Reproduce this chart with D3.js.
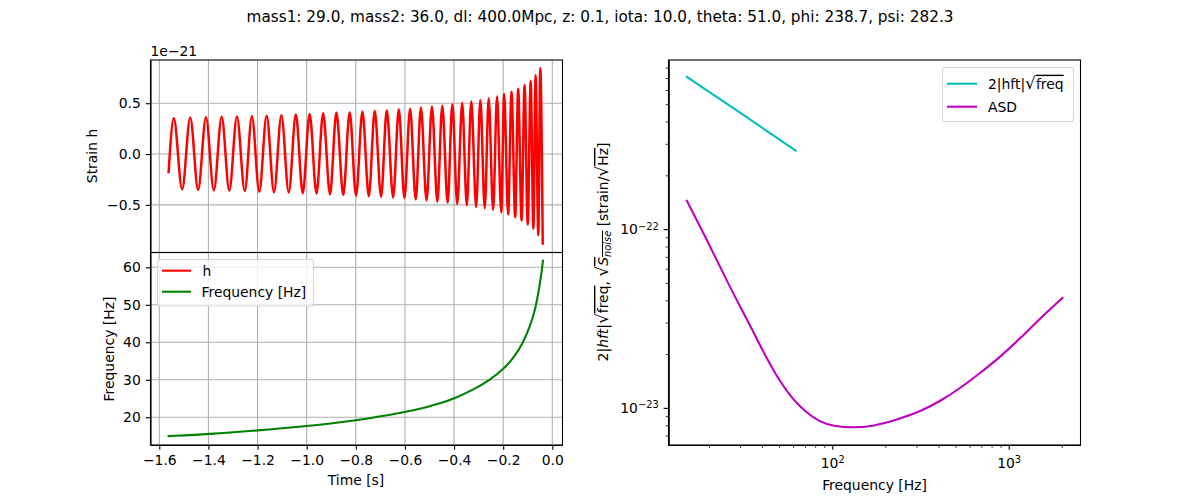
<!DOCTYPE html>
<html>
<head>
<meta charset="utf-8">
<script src="https://cdn.jsdelivr.net/npm/d3@7"></script>
<style>
  body { margin: 0; background: white; }
  text { font-family: "DejaVu Sans", sans-serif; font-size: 13.9px; fill: black; }
  .axis path, .axis line { stroke: black; stroke-width: 1.1px; }
  .axis.minor line { stroke-width: 0.83px; }
  .grid line { stroke: #b0b0b0; stroke-width: 1.1px; }
  .over { text-decoration: overline; }
</style>
</head>
<body>
<div id="chart"></div>
<script>
// Values
const titleText = "mass1: 29.0, mass2: 36.0, dl: 400.0Mpc, z: 0.1, iota: 10.0, theta: 51.0, phi: 238.7, psi: 282.3";

// Strain: start, each crest and trough, end
const strainTime = [-1.562, -1.541, -1.507, -1.474, -1.442, -1.410, -1.378, -1.346, -1.315, -1.284, -1.252, -1.223,
  -1.193, -1.163, -1.133, -1.103, -1.073, -1.044, -1.016, -0.988, -0.960, -0.933, -0.905, -0.879,
  -0.851, -0.825, -0.799, -0.773, -0.747, -0.723, -0.697, -0.674, -0.648, -0.625, -0.602, -0.579,
  -0.556, -0.535, -0.512, -0.490, -0.468, -0.448, -0.426, -0.407, -0.387, -0.367, -0.348, -0.330,
  -0.310, -0.293, -0.275, -0.259, -0.241, -0.225, -0.208, -0.196, -0.180, -0.166, -0.151, -0.139,
  -0.125, -0.113, -0.100, -0.088, -0.077, -0.068, -0.057, -0.049, -0.039];
const strainValue = [-0.176, 0.353, -0.347, 0.359, -0.353, 0.363, -0.357, 0.366, -0.360, 0.369, -0.363, 0.373,
  -0.370, 0.378, -0.376, 0.382, -0.379, 0.388, -0.386, 0.395, -0.389, 0.402, -0.396, 0.408,
  -0.402, 0.412, -0.409, 0.418, -0.416, 0.425, -0.422, 0.431, -0.428, 0.441, -0.433, 0.445,
  -0.446, 0.457, -0.456, 0.467, -0.467, 0.476, -0.477, 0.490, -0.490, 0.503, -0.504, 0.516,
  -0.520, 0.532, -0.533, 0.549, -0.549, 0.565, -0.573, 0.591, -0.595, 0.614, -0.622, 0.643,
  -0.654, 0.679, -0.693, 0.719, -0.735, 0.775, -0.798, 0.843, -0.879];

// Frequency over time
const freqTime = [-1.562, -1.4, -1.2, -1.0, -0.8, -0.6, -0.5, -0.457, -0.4, -0.322, -0.254, -0.2, -0.152, -0.118, -0.091, -0.070, -0.057, -0.046, -0.038];
const freqValue = [15.0, 15.5, 16.5, 17.6, 19.1, 21.3, 22.9, 23.7, 25.0, 27.3, 30.0, 32.7, 36.3, 40.0, 44.2, 48.6, 53.1, 57.5, 61.8];

// Right panel
const hftFreq = [15, 30, 62];
const hftValue = [7.1e-22, 4.48e-22, 2.75e-22];
const asdFreq = [15, 20, 25.9, 29.9, 35.6, 42.4, 50.4, 60, 71.6, 85.1, 101, 131.6, 171, 232, 315, 409, 532, 691, 897, 1167, 1515, 2018];
const asdValue = [1.44e-22, 8.28e-23, 4.89e-23, 3.73e-23, 2.68e-23, 1.90e-23, 1.41e-23, 1.11e-23, 9.37e-24, 8.35e-24, 7.9e-24, 7.73e-24,
  7.9e-24, 8.57e-24, 9.53e-24, 1.09e-23, 1.29e-23, 1.57e-23, 1.93e-23, 2.46e-23, 3.18e-23, 4.12e-23];

// Ticks
const timeTicks = [-1.6, -1.4, -1.2, -1.0, -0.8, -0.6, -0.4, -0.2, 0.0];
const strainTicks = [-0.5, 0.0, 0.5];
const freqTicks = [20, 30, 40, 50, 60];
const logFreqTicks = [100, 1000];
const logAmpTicks = [1e-23, 1e-22];
const mantissas = [2, 3, 4, 5, 6, 7, 8, 9];

// Layout of the figure
const width = 1200, height = 500;
const left = {x0: 150.5, x1: 562.5, top: 60, mid: 252.5, bottom: 445};
const right = {x0: 668.5, x1: 1080.5, top: 60, bottom: 445};
const lw = 2.08, tickLen = 4.86, tickPad = 4.86;

const svg = d3.select("#chart").append("svg")
  .attr("width", width)
  .attr("height", height);

// Scales
const xTime = d3.scaleLinear().domain([-1.6358, 0.0415]).range([left.x0, left.x1]);
const yStrain = d3.scaleLinear().domain([-0.968, 0.925]).range([left.mid, left.top]);
const yFreq = d3.scaleLinear().domain([12.61, 63.95]).range([left.bottom, left.mid]);
const xLog = d3.scaleLog().domain([11.8, 2553]).range([right.x0, right.x1]);
const yLog = d3.scaleLog().domain([6.2e-24, 8.83e-22]).range([right.bottom, right.top]);

const minus = v => d3.format(".1f")(v).replace("-", "\u2212");

// Grid lines of a panel
function drawGrid(xs, ys, x, y, top, bottom, x0, x1) {
  const g = svg.append("g").attr("class", "grid");
  g.selectAll(".v").data(xs).enter().append("line")
    .attr("x1", d => x(d)).attr("x2", d => x(d))
    .attr("y1", top).attr("y2", bottom);
  g.selectAll(".h").data(ys).enter().append("line")
    .attr("x1", x0).attr("x2", x1)
    .attr("y1", d => y(d)).attr("y2", d => y(d));
}

function drawLine(xs, ys, x, y, color, curve, sw) {
  const line = d3.line()
    .x(d => x(d[0]))
    .y(d => y(d[1]))
    .curve(curve);
  svg.append("path")
    .attr("d", line(d3.zip(xs, ys)))
    .attr("fill", "none")
    .attr("stroke", color)
    .attr("stroke-width", sw)
    .attr("stroke-linecap", "square")
    .attr("stroke-linejoin", "round");
}

// Box around a panel
function drawFrame(x0, x1, y0, y1) {
  svg.append("rect")
    .attr("x", x0).attr("y", y0)
    .attr("width", x1 - x0).attr("height", y1 - y0)
    .attr("fill", "none")
    .attr("stroke", "black")
    .attr("stroke-width", 1.1);
}

function drawAxis(axis, tx, ty) {
  axis.tickSizeOuter(0);
  return svg.append("g")
    .attr("class", "axis")
    .attr("transform", `translate(${tx},${ty})`)
    .call(axis)
    .call(g => g.selectAll("text").attr("font-family", null).attr("font-size", null))
    .call(g => g.attr("font-family", null).attr("font-size", null));
}

// Top left: strain
drawGrid(timeTicks, strainTicks, xTime, yStrain, left.top, left.mid, left.x0, left.x1);
drawLine(strainTime, strainValue, xTime, yStrain, "red", d3.curveMonotoneX, 2.5);
drawAxis(d3.axisLeft(yStrain).tickValues(strainTicks).tickFormat(minus).tickSize(tickLen).tickPadding(tickPad), left.x0, 0);
drawFrame(left.x0, left.x1, left.top, left.mid);

// Bottom left: frequency
drawGrid(timeTicks, freqTicks, xTime, yFreq, left.mid, left.bottom, left.x0, left.x1);
drawLine(freqTime, freqValue, xTime, yFreq, "green", d3.curveBasis, lw);
drawAxis(d3.axisLeft(yFreq).tickValues(freqTicks).tickSize(tickLen).tickPadding(tickPad), left.x0, 0);
drawAxis(d3.axisBottom(xTime).tickValues(timeTicks).tickFormat(minus).tickSize(tickLen).tickPadding(tickPad), 0, left.bottom);
drawFrame(left.x0, left.x1, left.mid, left.bottom);

// Right: amplitude spectrum
drawLine(hftFreq, hftValue, xLog, yLog, "#00bfbf", d3.curveLinear, lw);
drawLine(asdFreq, asdValue, xLog, yLog, "#bf00bf", d3.curveBasis, lw);

// Log axes, labels set by hand as 10 with a raised exponent
function powerLabel(sel, exp) {
  sel.text("10");
  sel.append("tspan").attr("dy", "-0.45em").style("font-size", "9.9px").text(exp);
}
const xMinor = [10, 100, 1000].flatMap(k => mantissas.map(m => m * k)).filter(v => v > 11.8 && v < 2553);
const yMinor = [1e-24, 1e-23, 1e-22].flatMap(k => mantissas.map(m => m * k)).filter(v => v > 6.2e-24 && v < 8.83e-22);

drawAxis(d3.axisBottom(xLog).tickValues(xMinor).tickFormat("").tickSize(2.78), 0, right.bottom).classed("minor", true);
drawAxis(d3.axisBottom(xLog).tickValues(logFreqTicks).tickFormat("").tickSize(tickLen).tickPadding(tickPad), 0, right.bottom)
  .selectAll("text")
  .attr("y", 13)
  .each(function(d) { powerLabel(d3.select(this), String(Math.round(Math.log10(d)))); });
drawAxis(d3.axisLeft(yLog).tickValues(yMinor).tickFormat("").tickSize(2.78), right.x0, 0).classed("minor", true);
drawAxis(d3.axisLeft(yLog).tickValues(logAmpTicks).tickFormat("").tickSize(tickLen).tickPadding(tickPad), right.x0, 0)
  .selectAll("text")
  .each(function(d) { powerLabel(d3.select(this), "\u2212" + Math.round(-Math.log10(d))); });
drawFrame(right.x0, right.x1, right.top, right.bottom);

// Legend box with line samples
function drawLegend(x, y, w, h, entries, x0, x1, textX) {
  svg.append("rect")
    .attr("x", x).attr("y", y)
    .attr("width", w).attr("height", h)
    .attr("rx", 2.8)
    .attr("fill", "white").attr("fill-opacity", 0.8)
    .attr("stroke", "#cccccc").attr("stroke-opacity", 0.8).attr("stroke-width", 1.1);
  entries.forEach(e => {
    svg.append("line")
      .attr("x1", x0).attr("x2", x1)
      .attr("y1", e.y).attr("y2", e.y)
      .attr("stroke", e.color).attr("stroke-width", lw);
    const t = svg.append("text").attr("x", textX).attr("y", e.y + 5);
    e.label(t);
  });
}

// Root sign, a little larger than the text around it
function rootSign(t) {
  t.append("tspan").style("font-size", "17px").text("\u221A");
}

drawLegend(157.5, 259.5, 156, 46.5, [
  {y: 270.7, color: "red", label: t => t.attr("x", 202.5).text("h")},
  {y: 291.7, color: "green", label: t => t.text("Frequency [Hz]")}
], 162, 191, 201.5);

drawLegend(942.5, 67.5, 131, 54, [
  {y: 83.7, color: "#00bfbf", label: t => {
    t.append("tspan").text("2|hft|");
    rootSign(t);
    t.append("tspan").attr("class", "over").text("freq");
  }},
  {y: 106.7, color: "#bf00bf", label: t => t.text("ASD")}
], 947, 977, 988);

// Titles and axis labels
svg.append("text").attr("x", 600).attr("y", 22).attr("text-anchor", "middle").style("font-size", "15.28px").text(titleText);
svg.append("text").attr("x", 150.5).attr("y", 56).text("1e\u221221");
svg.append("text").attr("x", 356).attr("y", 485).attr("text-anchor", "middle").text("Time [s]");
svg.append("text").attr("x", 874.5).attr("y", 490).attr("text-anchor", "middle").text("Frequency [Hz]");
svg.append("text").attr("transform", "translate(97,156) rotate(-90)").attr("text-anchor", "middle").text("Strain h");
svg.append("text").attr("transform", "translate(114,349) rotate(-90)").attr("text-anchor", "middle").text("Frequency [Hz]");

// Long label of the right panel, with root bars
const yLabel = svg.append("text").attr("transform", "translate(608,252) rotate(-90)").attr("text-anchor", "middle");
yLabel.append("tspan").text("2|");
yLabel.append("tspan").style("font-style", "italic").text("hft");
yLabel.append("tspan").text("|");
rootSign(yLabel);
yLabel.append("tspan").attr("class", "over").text("freq");
yLabel.append("tspan").text(", ");
rootSign(yLabel);
yLabel.append("tspan").attr("class", "over").style("font-style", "italic").text("S");
yLabel.append("tspan").attr("class", "over").attr("dy", 3).style("font-style", "italic").style("font-size", "9.9px").text("noise");
yLabel.append("tspan").attr("dy", -3).text(" [strain/");
rootSign(yLabel);
yLabel.append("tspan").attr("class", "over").text("Hz");
yLabel.append("tspan").text("]");
</script>
</body>
</html>
